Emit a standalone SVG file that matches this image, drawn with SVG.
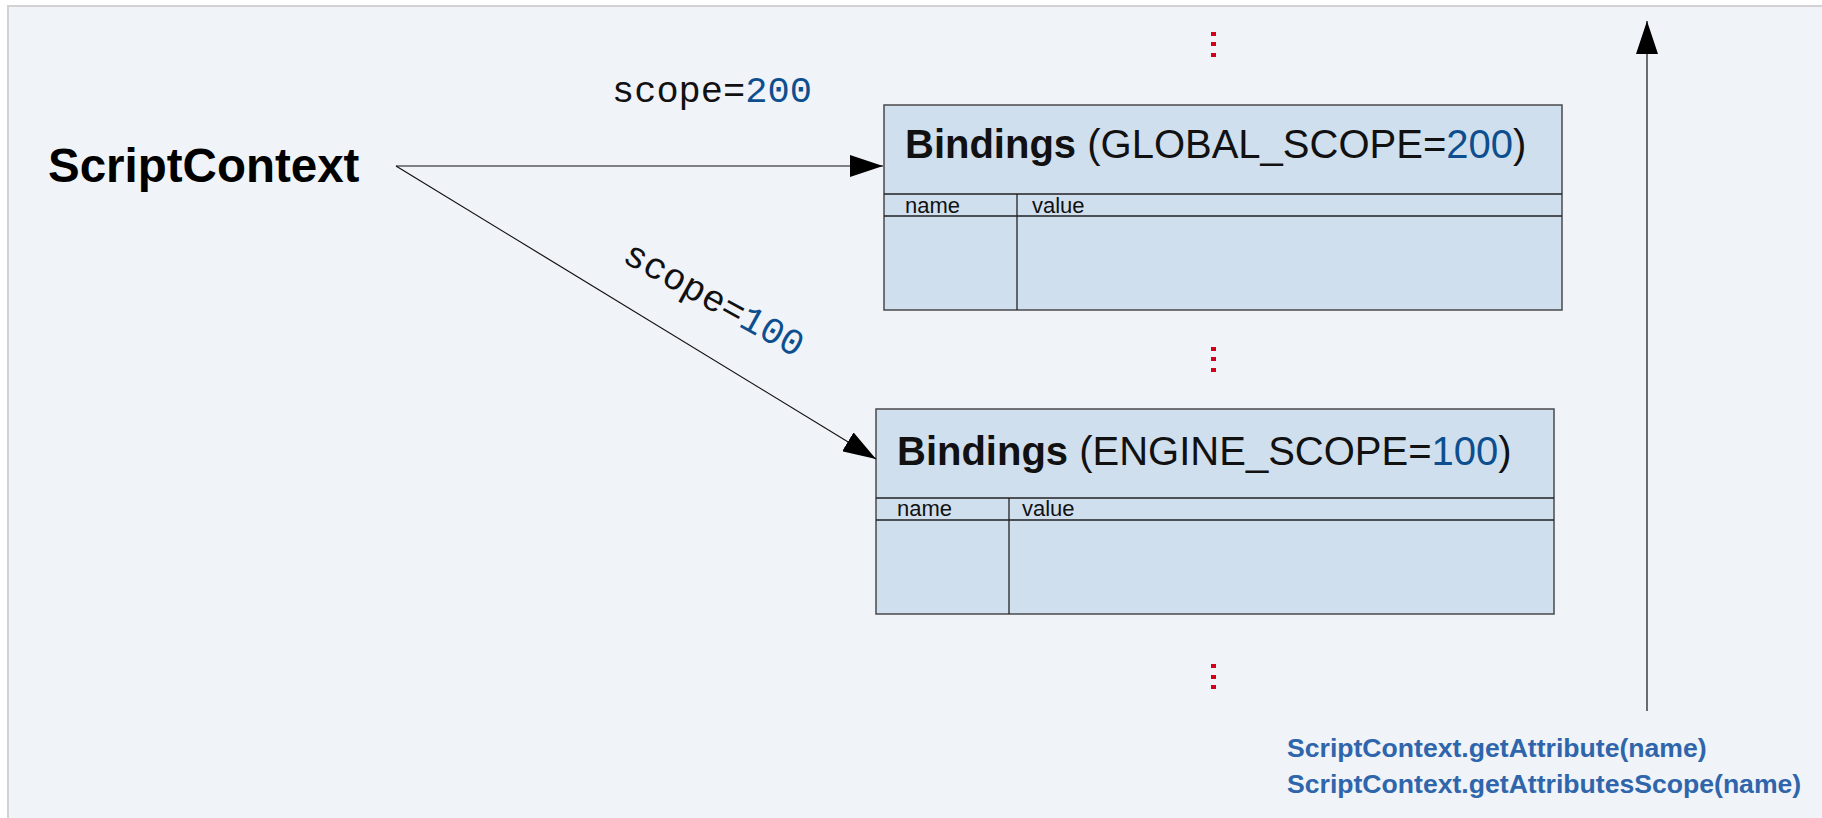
<svg xmlns="http://www.w3.org/2000/svg" width="1822" height="818" viewBox="0 0 1822 818">
<defs>
<style>
.frame{fill:#f0f3f8;stroke:#d2d2d4;stroke-width:2}
.box{fill:#d0dfee;stroke:#4a4a4a;stroke-width:1.5}
.ln{stroke:#222;stroke-width:1.3;fill:none}
.conn{stroke:#111;stroke-width:1.2;fill:none}
.title{font-family:"Liberation Sans",Arial,sans-serif;font-size:40px;fill:#111}
.b{font-weight:bold}
.num{fill:#0d4f8e}
.col{font-family:"Liberation Sans",Arial,sans-serif;font-size:22px;fill:#111}
.mono{font-family:"Liberation Mono","DejaVu Sans Mono",monospace;font-size:37px;fill:#111}
.dot{fill:#d0021b}
.api{font-family:"Liberation Sans",Arial,sans-serif;font-size:26.6px;font-weight:bold;fill:#2f65ab}
</style>
<marker id="ah" markerWidth="33" markerHeight="22" refX="33" refY="11" orient="auto" markerUnits="userSpaceOnUse">
<path d="M0,0 L33,11 L0,22 Z" fill="#000"/>
</marker>
</defs>
<rect x="0" y="0" width="1822" height="818" fill="#ffffff"/>
<rect class="frame" x="8" y="6" width="1830" height="830"/>

<g id="scriptcontext">
<text x="48" y="182" font-family="Liberation Sans,Arial,sans-serif" font-size="47.5" font-weight="bold" fill="#000">ScriptContext</text>
</g>

<g id="global-bindings">
<rect class="box" x="884" y="105" width="678" height="205"/>
<line class="ln" x1="884" y1="194" x2="1562" y2="194"/>
<line class="ln" x1="884" y1="216" x2="1562" y2="216"/>
<line class="ln" x1="1017" y1="194" x2="1017" y2="310"/>
<text class="title" x="905" y="158"><tspan class="b">Bindings</tspan> (GLOBAL_SCOPE=<tspan class="num">200</tspan>)</text>
<text class="col" x="905" y="213">name</text>
<text class="col" x="1032" y="213">value</text>
</g>

<g id="engine-bindings">
<rect class="box" x="876" y="409" width="678" height="205"/>
<line class="ln" x1="876" y1="498" x2="1554" y2="498"/>
<line class="ln" x1="876" y1="520" x2="1554" y2="520"/>
<line class="ln" x1="1009" y1="498" x2="1009" y2="614"/>
<text class="title" x="897" y="465"><tspan class="b">Bindings</tspan> (ENGINE_SCOPE=<tspan class="num">100</tspan>)</text>
<text class="col" x="897" y="516">name</text>
<text class="col" x="1022" y="516">value</text>
</g>

<g id="dots">
<rect class="dot" x="1211" y="32" width="5" height="4"/>
<rect class="dot" x="1211" y="42" width="5" height="4"/>
<rect class="dot" x="1211" y="53" width="5" height="4"/>
<rect class="dot" x="1211" y="347" width="5" height="4"/>
<rect class="dot" x="1211" y="357" width="5" height="4"/>
<rect class="dot" x="1211" y="368" width="5" height="4"/>
<rect class="dot" x="1211" y="664" width="5" height="4"/>
<rect class="dot" x="1211" y="675" width="5" height="4"/>
<rect class="dot" x="1211" y="685" width="5" height="4"/>
</g>

<g id="connectors">
<line class="conn" x1="396" y1="166" x2="883" y2="166" marker-end="url(#ah)"/>
<line class="conn" x1="396" y1="166" x2="876" y2="459" marker-end="url(#ah)"/>
<line class="conn" x1="1647" y1="711" x2="1647" y2="21" marker-end="url(#ah)"/>
<text class="mono" x="612" y="102">scope=<tspan class="num">200</tspan></text>
<text class="mono" transform="translate(621,261) rotate(29)" x="0" y="0">scope=<tspan class="num">100</tspan></text>
</g>

<g id="api-label">
<text class="api" x="1287" y="757">ScriptContext.getAttribute(name)</text>
<text class="api" x="1287" y="793">ScriptContext.getAttributesScope(name)</text>
</g>
</svg>
